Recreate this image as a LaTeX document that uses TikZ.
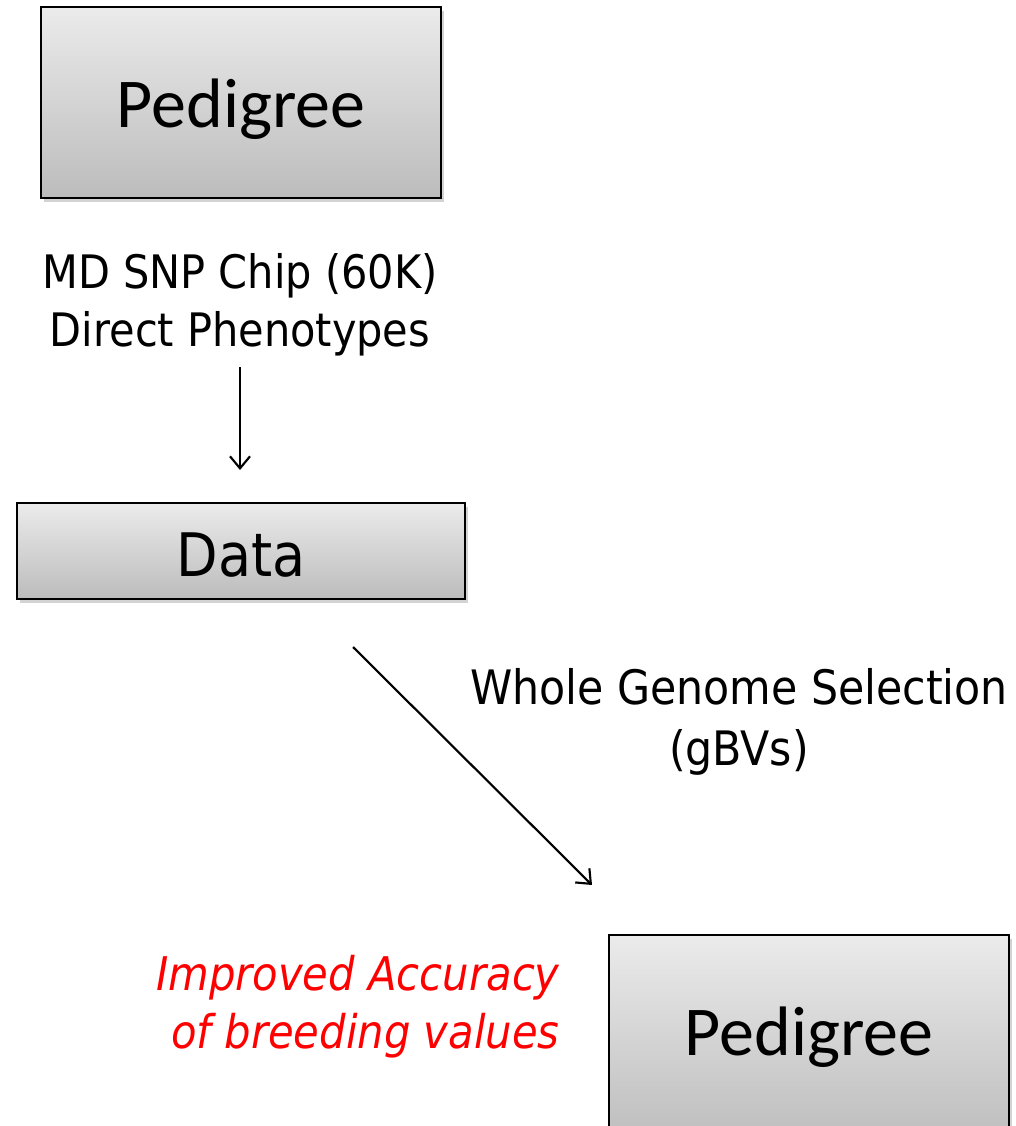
\documentclass[tikz,border=0pt]{standalone}
\usepackage{fontspec}
\setmainfont{DejaVu Sans Condensed}
\newfontfamily\pedfont{Carlito}
\usetikzlibrary{arrows.meta}
\usetikzlibrary{shadows}
\definecolor{boxtop}{HTML}{EBEBEB}
\definecolor{boxbot}{HTML}{BCBCBC}

\begin{document}
\begin{tikzpicture}[x=0.75pt, y=-0.75pt, >={Straight Barb[length=9pt,width=15pt]},
  box/.style={draw=black, line width=1.5pt, top color=boxtop, bottom color=boxbot,
    drop shadow={shadow xshift=2pt, shadow yshift=-3pt, opacity=0.35},
    text height=38pt, text depth=0pt, inner sep=0pt},
  pedbox/.style={box, minimum width=300pt, minimum height=143.25pt,
    font=\pedfont\fontsize{52.5}{60}\selectfont},
  ]
\useasboundingbox (0,0) rectangle (1015,1126);
\node[pedbox] (ped1) at (241, 102.5) {Pedigree};
\node[box, minimum width=336pt, minimum height=72pt, font=\fontsize{45}{54}\selectfont] (dat) at (241, 551) {Data};
\node[pedbox, minimum height=158pt, text height=22pt] (ped2) at (809, 1040.5) {Pedigree};
\node[anchor=base, align=center, inner sep=0pt, font=\fontsize{34.6}{43}\selectfont] (chip) at (240, 346) {MD SNP Chip (60K)\\Direct Phenotypes};
\node[anchor=base, align=center, inner sep=0pt, font=\fontsize{35.6}{45.75}\selectfont] (wgs) at (739, 765) {Whole Genome Selection\\(gBVs)};
\node[anchor=base east, align=right, inner sep=0pt, text=red, font=\itshape\fontsize{34.8}{43.5}\selectfont] (acc) at (560, 1048) {Improved Accuracy\\of breeding values};
\coordinate (a1) at (240, 367);
\coordinate (b1) at (240, 470);
\coordinate (a2) at (353, 647);
\coordinate (b2) at (592, 885);
  \draw [->, line width=1.6pt] (a1)--(b1);
  \draw [->, line width=1.6pt] (a2)--(b2);
\end{tikzpicture}
\end{document}
